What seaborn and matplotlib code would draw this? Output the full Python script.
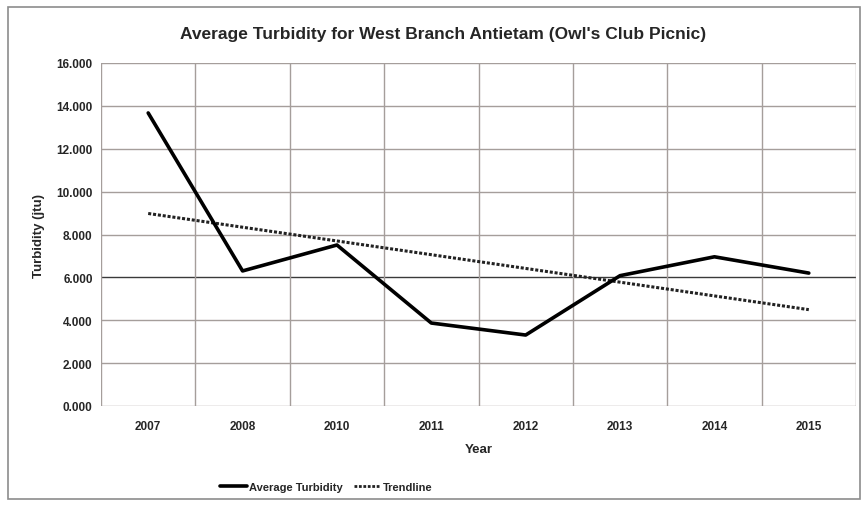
import numpy as np
import pandas as pd
import matplotlib
matplotlib.use("Agg")
import matplotlib.pyplot as plt
from matplotlib.lines import Line2D
from matplotlib.patches import Rectangle
from matplotlib.ticker import FixedLocator, FuncFormatter
import seaborn as sns

years = ["2007", "2008", "2010", "2011", "2012", "2013", "2014", "2015"]
turbidity = [13.67, 6.30, 7.51, 3.87, 3.31, 6.08, 6.96, 6.20]
y_ticks = [0, 2, 4, 6, 8, 10, 12, 14, 16]

sns.set_theme(style="white")
plt.rcParams["font.family"] = ["Liberation Sans Narrow", "Liberation Sans", "DejaVu Sans"]
plt.rcParams["font.weight"] = "bold"

pos = np.arange(len(years))
df = pd.DataFrame({"pos": pos, "Turbidity": turbidity})

# linear trendline fitted over the category positions
slope, intercept = np.polyfit(pos, turbidity, 1)
df["Trend"] = intercept + slope * pos

fig = plt.figure(figsize=(8.63, 5.06), dpi=100)
fig.patch.set_facecolor("white")
ax = fig.add_axes([101 / 863, 1 - 407 / 506, 755 / 863, 343 / 506])

grid_col = "#a59e9b"
ax.set_xlim(-0.5, len(years) - 0.5)
ax.set_ylim(0, 16)
ax.yaxis.set_major_locator(FixedLocator(y_ticks))
ax.yaxis.set_major_formatter(FuncFormatter(lambda v, _: f"{v:.3f}"))
for v in y_ticks:
    ax.axhline(v, color="#3a3a3a" if v == 6 else grid_col, lw=1.0, zorder=0)
for b in np.arange(-0.5, len(years), 1.0):
    ax.axvline(b, color=grid_col, lw=1.0, zorder=0)

sns.lineplot(data=df, x="pos", y="Trend", ax=ax, color="#222222", lw=2.2,
             linestyle=(0, (1, 0.6)), zorder=2)
sns.lineplot(data=df, x="pos", y="Turbidity", ax=ax, color="black", lw=2.6, zorder=3)

ax.set_xticks(pos)
ax.set_xticklabels(years)
ax.tick_params(axis="both", length=0, labelsize=8.5, colors="#262626")
ax.tick_params(axis="x", pad=10)
ax.tick_params(axis="y", pad=6)
for s in ax.spines.values():
    s.set_visible(False)

ax.set_xlabel("Year", fontsize=9.5, fontweight="bold", color="#262626", labelpad=8)
ax.set_ylabel("Turbidity (jtu)", fontsize=9.5, fontweight="bold", color="#262626", labelpad=8)

fig.text(443 / 863, 1 - 34 / 506,
         "Average Turbidity for West Branch Antietam (Owl's Club Picnic)",
         ha="center", va="center", fontsize=12.5, fontweight="bold", color="#262626")

handles = [Line2D([], [], color="black", lw=2.6),
           Line2D([], [], color="#222222", lw=2.0, linestyle=(0, (1, 0.6)))]
fig.legend(handles, ["Average Turbidity", "Trendline"], loc="center",
           bbox_to_anchor=(326 / 863, 1 - 488 / 506), ncol=2, frameon=False,
           fontsize=8, handlelength=2.4, columnspacing=1.0, handletextpad=0.2)

fig.add_artist(Rectangle((8 / 863, 1 - 500 / 506), 852 / 863, 492 / 506,
                         transform=fig.transFigure, fill=False,
                         edgecolor="#8c8c8c", lw=1.2))

fig.savefig("out.png", dpi=100, facecolor="white")
